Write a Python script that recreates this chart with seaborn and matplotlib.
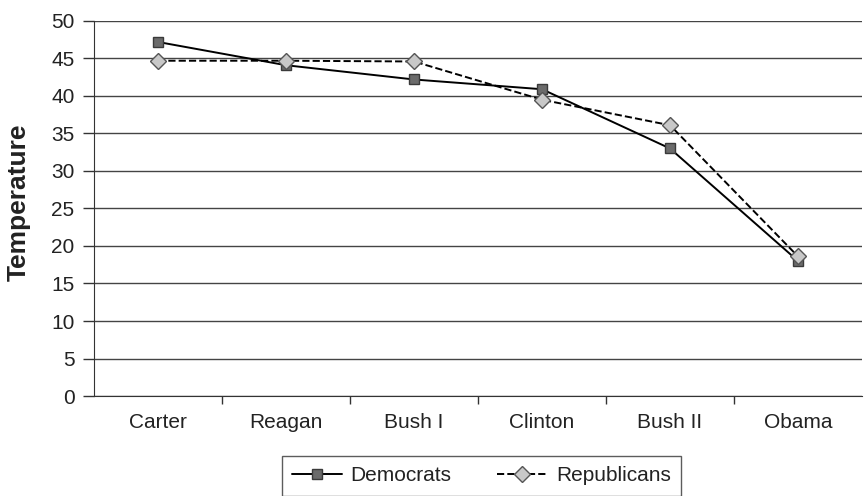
import pandas as pd
import numpy as np
from matplotlib import pyplot as plt
from matplotlib.ticker import FixedLocator
import seaborn as sns

presidents = ["Carter", "Reagan", "Bush I", "Clinton", "Bush II", "Obama"]
democrats = [47.2, 44.1, 42.2, 40.9, 33.0, 18.0]
republicans = [44.7, 44.7, 44.6, 39.5, 36.1, 18.6]

sns.set_style("white")
plt.rcParams['font.family'] = ['Liberation Sans', 'DejaVu Sans']
plt.rcParams['text.color'] = '#222222'

df = pd.DataFrame({"president": presidents, "Democrats": democrats, "Republicans": republicans})
df = df.melt(id_vars="president", var_name="party", value_name="temp")
df["pos"] = df["president"].map({p: i for i, p in enumerate(presidents)})

STYLES = {
    "Democrats": dict(marker="s", markersize=7.5, markerfacecolor="#6b6b6b",
                      markeredgecolor="#3a3a3a", linestyle="-"),
    "Republicans": dict(marker="D", markersize=8, markerfacecolor="#c8c8c8",
                        markeredgecolor="#555555", linestyle="--"),
}

fig = plt.figure(figsize=(8.65, 4.96), dpi=100)
ax = fig.add_axes([0.1087, 0.2016, 0.8879, 0.7561])

for party, st in STYLES.items():
    sns.lineplot(data=df[df["party"] == party], x="pos", y="temp", ax=ax,
                 color="black", linewidth=1.4, label=party,
                 markeredgewidth=1.0, **st)

ax.set_xlim(-0.5, 5.5)
ax.set_ylim(0, 50)
ax.set_yticks(range(0, 51, 5))
ax.yaxis.grid(True, color="#444444", linewidth=1.0)
ax.set_axisbelow(True)
ax.tick_params(axis="y", direction="out", length=8, width=1, color="#333333",
               labelsize=15, pad=6, left=True, labelcolor="#222222")
ax.set_xticks(range(len(presidents)))
ax.set_xticklabels(presidents)
ax.tick_params(axis="x", which="major", length=0, labelsize=15, pad=12,
               labelcolor="#222222")
ax.xaxis.set_minor_locator(FixedLocator(np.arange(0.5, 5.5, 1.0)))
ax.tick_params(axis="x", which="minor", direction="out", length=6, width=1,
               color="#333333", bottom=True)
for s in ["top", "right"]:
    ax.spines[s].set_visible(False)
ax.spines["left"].set_color("#333333")
ax.spines["bottom"].set_color("#333333")
ax.set_xlabel("")
ax.set_ylabel("Temperature", fontsize=19, fontweight="bold", color="#222222")
ax.yaxis.set_label_coords(-0.082, 0.517)

leg = ax.legend(loc="lower center", bbox_to_anchor=(0.5566, -0.02),
                bbox_transform=fig.transFigure, ncol=2, frameon=True,
                fancybox=False, edgecolor="#333333", fontsize=15,
                handlelength=2.4, columnspacing=2.2, borderpad=0.5,
                handletextpad=0.4)
leg.get_frame().set_linewidth(1.0)

fig.savefig("out.png", dpi=100)
